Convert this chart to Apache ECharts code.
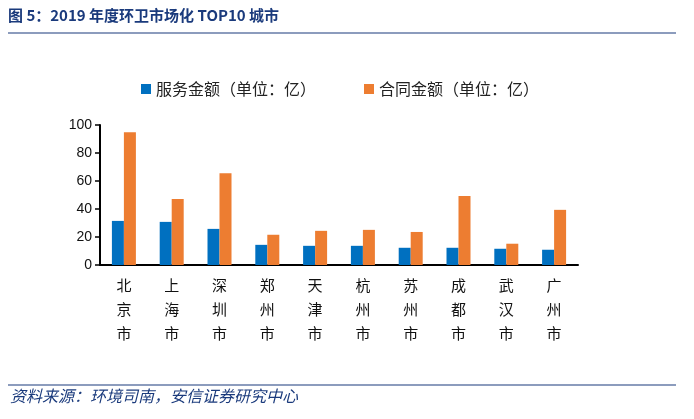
<!DOCTYPE html>
<html><head><meta charset="utf-8">
<script src="https://cdn.jsdelivr.net/npm/echarts@6/dist/echarts.min.js"></script>
<style>html,body{margin:0;padding:0;background:#fff}#c{width:694px;height:419px}</style>
</head><body><div id="c"></div>
<script>
var cities = ['北京市','上海市','深圳市','郑州市','天津市','杭州市','苏州市','成都市','武汉市','广州市'];
var serviceAmt = [31.5, 30.8, 25.8, 14.4, 13.7, 13.7, 12.3, 12.3, 11.6, 10.9];
var contractAmt = [94.8, 47.2, 65.6, 21.6, 24.4, 25.1, 23.6, 49.3, 15.2, 39.4];
var yTicks = [0, 20, 40, 60, 80, 100];

var chart = echarts.init(document.getElementById('c'));
var cjk = '"Noto Sans CJK SC", "Microsoft YaHei", sans-serif';
chart.setOption({
  animation: false,
  graphic: [
    {type:'text', left: 8, top: 8, style:{text:'图 5：2019 年度环卫市场化 TOP10 城市', font:'bold 15px "Noto Sans CJK SC", sans-serif', fill:'#1A3A7C'}},
    {type:'line', shape:{x1:8,y1:33,x2:676,y2:33}, style:{stroke:'#1A3A7C', lineWidth:1.2}},
    {type:'line', shape:{x1:8,y1:385,x2:676,y2:385}, style:{stroke:'#1A3A7C', lineWidth:1.2}},
    {type:'text', left: 10, top: 388, style:{text:'资料来源：环境司南，安信证券研究中心', font:'italic 16px "Noto Sans CJK SC", sans-serif', fill:'#1A3A7C'}}
  ],
  legend: {
    left: 136, top: 76, itemWidth: 10, itemHeight: 10, itemGap: 48,
    icon: 'rect',
    textStyle: {fontSize: 16, color: '#222', fontFamily: cjk},
    data: ['服务金额（单位：亿）','合同金额（单位：亿）']
  },
  grid: {left: 100, right: 116, top: 125, bottom: 154, containLabel: false},
  xAxis: {
    type: 'category', data: cities,
    axisLine: {lineStyle: {color: '#000', width: 2}},
    axisTick: {show: false},
    axisLabel: {
      interval: 0, margin: 8, fontSize: 15, color: '#111', fontFamily: cjk, lineHeight: 24,
      formatter: function(v){ return v.split('').join('\n'); }
    }
  },
  yAxis: {
    type: 'value', min: 0, max: 100, interval: 20,
    splitLine: {show: false},
    axisLine: {show: true, lineStyle: {color: '#000', width: 2}},
    axisTick: {show: true, inside: false, length: 5, lineStyle: {color: '#000', width: 1.5}},
    axisLabel: {fontSize: 14, color: '#111', margin: 8, fontFamily: 'Liberation Sans, Arial, sans-serif',
      formatter: function(v){ return yTicks.indexOf(v) >= 0 ? String(v) : ''; }}
  },
  series: [
    {name: '服务金额（单位：亿）', type: 'bar', data: serviceAmt, barWidth: 12, barGap: '0%', itemStyle: {color: '#0070C0'}},
    {name: '合同金额（单位：亿）', type: 'bar', data: contractAmt, barWidth: 12, barGap: '0%', itemStyle: {color: '#ED7D31'}}
  ]
});
</script></body></html>
